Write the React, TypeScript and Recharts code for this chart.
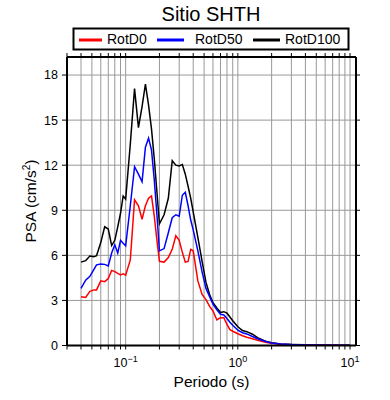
import React from 'react';
import { LineChart, Line, XAxis, YAxis, CartesianGrid } from 'recharts';

const periods = [0.04, 0.044, 0.048, 0.052, 0.055, 0.06, 0.065, 0.07, 0.075, 0.08, 0.085, 0.09, 0.095, 0.1, 0.11, 0.12, 0.13, 0.14, 0.15, 0.16, 0.17, 0.18, 0.19, 0.2, 0.22, 0.24, 0.26, 0.28, 0.3, 0.32, 0.34, 0.36, 0.38, 0.4, 0.44, 0.48, 0.52, 0.56, 0.6, 0.65, 0.7, 0.75, 0.8, 0.85, 0.9, 1.0, 1.1, 1.2, 1.35, 1.5, 1.8, 2.0, 2.4, 3.0, 4.0, 5.0, 6.0, 8.0, 10.0];

const rotD0 = [3.25, 3.2, 3.6, 3.7, 3.7, 4.3, 4.25, 4.45, 5.0, 4.92, 4.8, 4.7, 4.77, 4.68, 5.7, 9.7, 9.3, 8.4, 9.3, 9.8, 9.95, 8.6, 7.0, 5.6, 5.55, 5.85, 6.4, 7.3, 7.0, 6.2, 5.55, 5.6, 6.4, 6.3, 4.3, 3.4, 3.05, 2.6, 2.3, 1.7, 1.85, 1.85, 1.4, 1.05, 0.95, 0.78, 0.65, 0.55, 0.45, 0.35, 0.2, 0.15, 0.09, 0.05, 0.035, 0.025, 0.018, 0.011, 0.008];

const rotD50 = [3.8, 4.35, 4.6, 5.05, 5.37, 5.43, 5.4, 5.3, 6.15, 6.7, 6.15, 7.0, 6.8, 6.63, 9.3, 11.9, 11.4, 10.9, 13.2, 13.8, 13.0, 11.0, 8.7, 6.3, 6.45, 7.5, 8.5, 8.7, 8.6, 10.0, 10.2, 9.3, 8.35, 7.7, 6.3, 4.9, 3.8, 3.25, 2.75, 2.37, 2.08, 2.03, 1.8, 1.55, 1.35, 1.02, 0.85, 0.77, 0.6, 0.45, 0.25, 0.17, 0.1, 0.06, 0.04, 0.03, 0.02, 0.013, 0.009];

const rotD100 = [5.55, 5.65, 5.95, 5.9, 5.97, 6.85, 7.9, 7.75, 6.65, 7.0, 7.9, 8.8, 9.95, 9.75, 13.4, 17.1, 14.5, 15.9, 17.4, 16.0, 14.4, 12.4, 10.2, 8.1, 8.7, 9.8, 12.3, 12.0, 11.95, 12.05, 11.4, 10.6, 9.8, 8.9, 7.2, 5.6, 4.2, 3.4, 2.85, 2.5, 2.2, 2.25, 2.15, 1.9, 1.65, 1.25, 1.0, 0.92, 0.75, 0.52, 0.26, 0.18, 0.1, 0.07, 0.05, 0.035, 0.025, 0.015, 0.01];

const seriesNames = ['RotD0', 'RotD50', 'RotD100'];
const seriesColors = ['#ff0000', '#0000ff', '#000000'];

const xTicks = [0.03, 0.04, 0.05, 0.06, 0.07, 0.08, 0.09, 0.1, 0.2, 0.3, 0.4, 0.5, 0.6, 0.7, 0.8, 0.9, 1, 2, 3, 4, 5, 6, 7, 8, 9, 10];
const yTicks = [0, 3, 6, 9, 12, 15, 18];

const titleText = 'Sitio SHTH';
const xLabelText = 'Periodo (s)';

const data = periods.map((T, i) => ({
  T,
  RotD0: rotD0[i],
  RotD50: rotD50[i],
  RotD100: rotD100[i],
}));

const FONT = "'Liberation Sans', Arial, Helvetica, sans-serif";

const XTick = (props: any) => {
  const { x, y, payload } = props;
  const v = payload.value;
  const lg = Math.log10(v);
  const e = Math.round(lg);
  if (Math.abs(lg - e) > 1e-6) return <g />;
  const exp = e < 0 ? '\u2212' + Math.abs(e) : String(e);
  return (
    <text x={x} y={y + 15} textAnchor="middle" fontFamily={FONT} fontSize={12.5} fill="#000">
      10<tspan dy={-5} fontSize={9}>{exp}</tspan>
    </text>
  );
};

const EmptyTick = () => <g />;

export default function App() {
  const legendX = [79, 157, 253];
  const legendTextX = [107, 195, 285];
  const legendLineW = [23, 27, 27];
  return (
    <div style={{ position: 'absolute', left: 0, top: 0, width: 390, height: 400, background: '#fff' }}>
      <LineChart
        width={390}
        height={400}
        data={data}
        margin={{ top: 56, right: 0, bottom: 24.5, left: 0 }}
      >
        <CartesianGrid stroke="#999999" strokeWidth={1} />
        <XAxis
          dataKey="T"
          type="number"
          scale="log"
          domain={[0.03, 11.3]}
          allowDataOverflow
          ticks={xTicks}
          interval={0}
          height={30}
          tick={XTick}
          tickSize={4}
          tickLine={{ stroke: '#000', strokeWidth: 1 }}
          axisLine={{ stroke: '#000', strokeWidth: 2 }}
        />
        <XAxis
          xAxisId="top"
          orientation="top"
          dataKey="T"
          type="number"
          scale="log"
          domain={[0.03, 11.3]}
          allowDataOverflow
          ticks={xTicks}
          interval={0}
          height={1}
          tick={EmptyTick}
          tickSize={4}
          tickLine={{ stroke: '#000', strokeWidth: 1 }}
          axisLine={{ stroke: '#000', strokeWidth: 2 }}
        />
        <YAxis
          type="number"
          domain={[0, 19.2]}
          allowDataOverflow
          ticks={yTicks}
          interval={0}
          width={67}
          tickSize={5}
          tickMargin={4}
          tick={{ fontSize: 12.5, fill: '#000', fontFamily: FONT }}
          tickLine={{ stroke: '#000', strokeWidth: 1 }}
          axisLine={{ stroke: '#000', strokeWidth: 2 }}
        />
        <YAxis
          yAxisId="right"
          orientation="right"
          type="number"
          domain={[0, 19.2]}
          allowDataOverflow
          ticks={yTicks}
          interval={0}
          width={34}
          tick={EmptyTick}
          tickSize={4}
          tickLine={{ stroke: '#000', strokeWidth: 1 }}
          axisLine={{ stroke: '#000', strokeWidth: 2 }}
        />
        <Line dataKey="RotD100" stroke={seriesColors[2]} strokeWidth={1.5} dot={false} isAnimationActive={false} />
        <Line dataKey="RotD0" stroke={seriesColors[0]} strokeWidth={1.5} dot={false} isAnimationActive={false} />
        <Line dataKey="RotD50" stroke={seriesColors[1]} strokeWidth={1.5} dot={false} isAnimationActive={false} />
      </LineChart>
      <svg
        width={390}
        height={400}
        style={{ position: 'absolute', left: 0, top: 0, pointerEvents: 'none' }}
      >
        <text x={211} y={20.7} textAnchor="middle" fontFamily={FONT} fontSize={20} fill="#000">
          {titleText}
        </text>
        <rect x={73.5} y={28.5} width={275} height={21} fill="#fff" stroke="#000" strokeWidth={2} />
        {seriesNames.map((name, i) => (
          <g key={name}>
            <line x1={legendX[i]} x2={legendX[i] + legendLineW[i]} y1={40} y2={40} stroke={seriesColors[i]} strokeWidth={3} />
            <text x={legendTextX[i]} y={43.5} fontFamily={FONT} fontSize={14} fill="#000">
              {name}
            </text>
          </g>
        ))}
        <text x={211.5} y={387} textAnchor="middle" fontFamily={FONT} fontSize={15.5} fill="#000">
          {xLabelText}
        </text>
        <text
          x={0}
          y={0}
          transform="translate(36, 201) rotate(-90)"
          textAnchor="middle"
          fontFamily={FONT}
          fontSize={15.5}
          fill="#000"
        >
          PSA (cm/s<tspan dy={-6} fontSize={10}>2</tspan><tspan dy={6}>)</tspan>
        </text>
      </svg>
    </div>
  );
}
